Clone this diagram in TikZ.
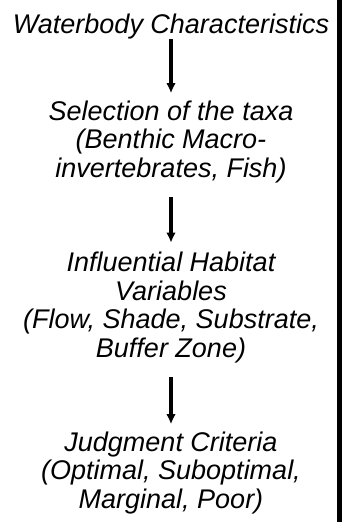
\documentclass[tikz,border=0pt]{standalone}
\usepackage{fontspec}
\setmainfont{Liberation Sans}
\usepackage{tikz}
\usetikzlibrary{arrows.meta, positioning}

\begin{document}
\begin{tikzpicture}[x=1pt, y=-1pt,
    stage/.style={align=center, inner sep=0pt, anchor=base, font=\itshape\fontsize{27}{28.5}\selectfont},
    downarrow/.style={line width=3.2pt, -{Latex[length=10pt, width=9.5pt]}}]
  \useasboundingbox (0,0) rectangle (342,522);
  \draw[line width=5pt] (339.5,0) -- (339.5,522);
  \node[stage] (water) at (171,33) {Waterbody Characteristics};
  \node[stage] (taxa) at (171,177) {Selection of the taxa\\(Benthic Macro-\\invertebrates, Fish)};
  \node[stage] (habitat) at (171,357) {Influential Habitat\\Variables\\(Flow, Shade, Substrate,\\Buffer Zone)};
  \node[stage] (criteria) at (171,508) {Judgment Criteria\\(Optimal, Suboptimal,\\Marginal, Poor)};
  \draw[downarrow, shorten <=0pt, shorten >=7pt] (water.south) -- (taxa.north);
  \draw[downarrow, shorten <=14pt, shorten >=9pt] (taxa.south) -- (habitat.north);
  \draw[downarrow, shorten <=14pt, shorten >=7pt] (habitat.south) -- (criteria.north);
\end{tikzpicture}
\end{document}
